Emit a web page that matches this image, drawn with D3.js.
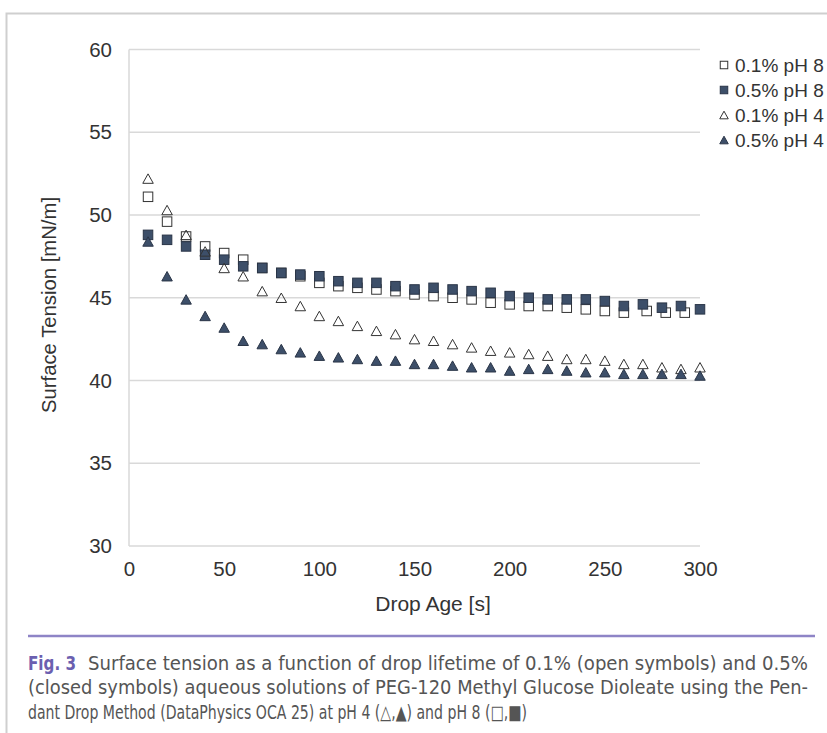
<!DOCTYPE html>
<html lang="en">
<head>
<meta charset="utf-8">
<title>Surface tension vs drop age</title>
<script src="https://cdn.jsdelivr.net/npm/d3@7"></script>
<style>
  body { margin: 0; background: #fff; }
  svg { display: block; }
  .tick text { font-family: "Liberation Sans", Arial, sans-serif; }
  .cap { font-family: "DejaVu Sans", sans-serif; font-stretch: condensed; }
</style>
</head>
<body>
<script>
// drop age [s]
let ages = [10,20,30,40,50,60,70,80,90,100,110,120,130,140,150,160,170,180,190,200,210,220,230,240,250,260,270,280,290,300];
let agesOpen8 = [10,20,30,40,50,60,70,80,90,100,110,120,130,140,150,160,170,180,190,200,210,220,230,240,250,260,272,282,292];

// surface tension [mN/m]
let open8 = [51.1,49.6,48.7,48.1,47.7,47.3,46.8,46.5,46.3,45.9,45.7,45.6,45.5,45.4,45.2,45.1,45.0,44.9,44.7,44.6,44.5,44.5,44.4,44.3,44.2,44.1,44.2,44.1,44.1];
let filled8 = [48.8,48.5,48.1,47.6,47.3,46.9,46.8,46.5,46.4,46.3,46.0,45.9,45.9,45.7,45.5,45.6,45.5,45.4,45.3,45.1,45.0,44.9,44.9,44.9,44.8,44.5,44.6,44.4,44.5,44.3];
let open4 = [52.2,50.3,48.8,47.8,46.8,46.3,45.4,45.0,44.5,43.9,43.6,43.3,43.0,42.8,42.5,42.4,42.2,42.0,41.8,41.7,41.6,41.5,41.3,41.3,41.2,41.0,41.0,40.8,40.7,40.8];
let filled4 = [48.4,46.3,44.9,43.9,43.2,42.4,42.2,41.9,41.7,41.5,41.4,41.3,41.2,41.2,41.0,41.0,40.9,40.8,40.8,40.6,40.7,40.7,40.6,40.5,40.5,40.4,40.4,40.4,40.4,40.3];

let xTicks = [0,50,100,150,200,250,300];
let yTicks = [30,35,40,45,50,55,60];

let seriesNames = ["0.1% pH 8","0.5% pH 8","0.1% pH 4","0.5% pH 4"];

let w = 827, h = 733;
let dark = "#3d4f69";

let svg = d3.select("body").append("svg")
    .attr("width", w).attr("height", h);

// outer frame (top + left)
svg.append("path")
    .attr("d", "M827,13.5 L6.5,13.5 L6.5,733")
    .attr("fill", "none").attr("stroke", "#cfcfcf").attr("stroke-width", 2);

let x = d3.scaleLinear().domain([0,300]).range([129,700]);
let y = d3.scaleLinear().domain([30,60]).range([546,49.5]);

// gridlines
svg.append("g").selectAll("line").data(yTicks).enter().append("line")
    .attr("x1", x(0)).attr("x2", x(300))
    .attr("y1", d => y(d)).attr("y2", d => y(d))
    .attr("stroke", "#d9d9d9").attr("stroke-width", 1.5);

// y axis line
svg.append("line")
    .attr("x1", x(0)).attr("x2", x(0))
    .attr("y1", y(60)).attr("y2", y(30))
    .attr("stroke", "#d9d9d9").attr("stroke-width", 1.5);

// tick labels only
let yAxis = svg.append("g").attr("transform", "translate(" + x(0) + ",0)")
    .call(d3.axisLeft(y).tickValues(yTicks).tickSize(0).tickPadding(17));
let xAxis = svg.append("g").attr("transform", "translate(0," + y(30) + ")")
    .call(d3.axisBottom(x).tickValues(xTicks).tickSize(0).tickPadding(15));
[yAxis, xAxis].forEach(a => {
    a.select(".domain").remove();
    a.selectAll("text").attr("font-size", 20.5).attr("fill", "#333");
});

svg.append("text")
    .attr("x", 433).attr("y", 611)
    .attr("text-anchor", "middle")
    .attr("font-family", "Liberation Sans, Arial, sans-serif")
    .attr("font-size", 21).attr("fill", "#333")
    .text("Drop Age [s]");

svg.append("text")
    .attr("transform", "translate(56,305) rotate(-90)")
    .attr("text-anchor", "middle")
    .attr("font-family", "Liberation Sans, Arial, sans-serif")
    .attr("font-size", 20.3).attr("fill", "#333")
    .text("Surface Tension [mN/m]");

// markers
function square(g, cx, cy, s, filled) {
    g.append("rect")
        .attr("x", cx - s/2).attr("y", cy - s/2)
        .attr("width", s).attr("height", s)
        .attr("fill", filled ? dark : "#fff")
        .attr("stroke", filled ? "#2a3547" : "#333")
        .attr("stroke-width", 1);
}
function triangle(g, cx, cy, s, filled) {
    let hh = s * 0.9;
    g.append("path")
        .attr("d", "M" + cx + "," + (cy - hh/2) + " L" + (cx + s/2) + "," + (cy + hh/2) + " L" + (cx - s/2) + "," + (cy + hh/2) + "Z")
        .attr("fill", filled ? dark : "none")
        .attr("stroke", filled ? "#2a3547" : "#333")
        .attr("stroke-width", 1);
}

let pts = svg.append("g");
open8.forEach((v, i) => square(pts, x(agesOpen8[i]), y(v), 9.5, false));
filled8.forEach((v, i) => square(pts, x(ages[i]), y(v), 9.5, true));
open4.forEach((v, i) => triangle(pts, x(ages[i]), y(v), 10.5, false));
filled4.forEach((v, i) => triangle(pts, x(ages[i]), y(v), 10.5, true));

// legend
let legend = svg.append("g");
let legY = [65, 90, 115, 140];
seriesNames.forEach((name, i) => {
    let cy = legY[i];
    if (i < 2) square(legend, 724, cy, 7.5, i === 1);
    else triangle(legend, 724, cy, 8.5, i === 3);
    legend.append("text")
        .attr("x", 735).attr("y", cy + 6.5)
        .attr("font-family", "Liberation Sans, Arial, sans-serif")
        .attr("font-size", 19).attr("fill", "#333")
        .text(name);
});

// caption
svg.append("line")
    .attr("x1", 28).attr("x2", 815).attr("y1", 636).attr("y2", 636)
    .attr("stroke", "#8e84c6").attr("stroke-width", 2.5);

svg.append("text")
    .attr("class", "cap")
    .attr("x", 28).attr("y", 670)
    .attr("font-weight", "bold")
    .attr("font-size", 19.5).attr("fill", "#6b5fb0")
    .attr("textLength", 48).attr("lengthAdjust", "spacingAndGlyphs")
    .text("Fig. 3");

let capLines = [
    {x: 88, y: 670, len: 720, t: "Surface tension as a function of drop lifetime of 0.1% (open symbols) and 0.5%"},
    {x: 28, y: 694, len: 780, t: "(closed symbols) aqueous solutions of PEG-120 Methyl Glucose Dioleate using the Pen-"},
    {x: 28, y: 719, len: 499, t: "dant Drop Method (DataPhysics OCA 25) at pH 4 (\u25B3,\u25B2) and pH 8 (\u25A1,\u25A0)"}
];
svg.append("g").selectAll("text").data(capLines).enter().append("text")
    .attr("class", "cap")
    .attr("x", d => d.x).attr("y", d => d.y)
    .attr("font-size", 19.5).attr("fill", "#555")
    .attr("textLength", d => d.len).attr("lengthAdjust", "spacingAndGlyphs")
    .text(d => d.t);
</script>
</body>
</html>
